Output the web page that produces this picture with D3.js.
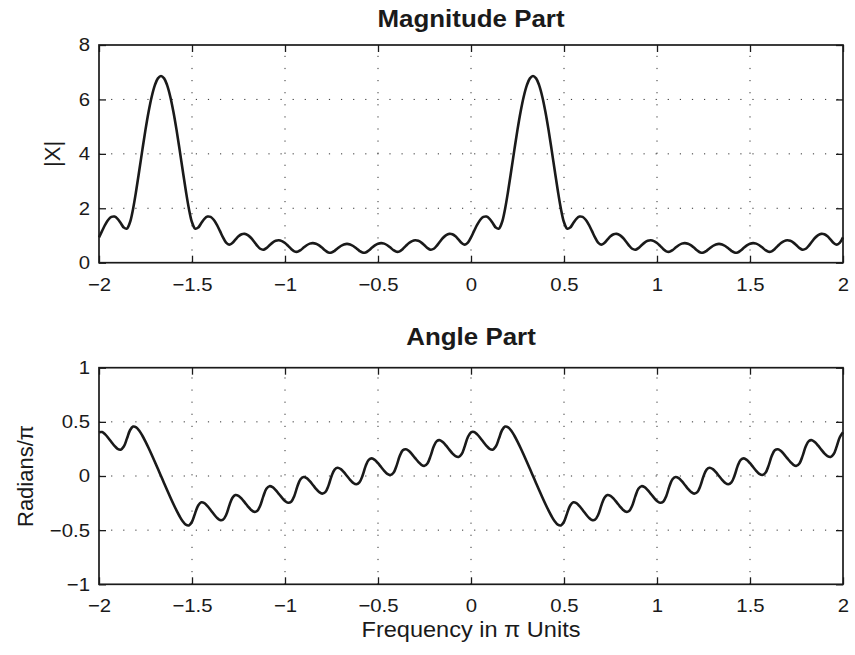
<!DOCTYPE html>
<html><head><meta charset="utf-8">
<script src="https://cdn.jsdelivr.net/npm/d3@7"></script>
<style>
body{margin:0;background:#fff}
text{font-family:"Liberation Sans",Arial,Helvetica,sans-serif;fill:#1a1a1a}
</style>
</head><body>
<svg id="chart" width="855" height="655" xmlns="http://www.w3.org/2000/svg"></svg>
<script>
// |X(e^jw)| sampled every pi/60 from -2pi to 2pi
const magnitude = [
0.929,1.168,1.397,1.577,1.682,1.694,1.613,1.458,1.292,1.253,
1.487,1.986,2.651,3.395,4.157,4.889,5.548,6.100,6.516,6.774,
6.862,
6.774,6.516,6.100,5.548,4.889,4.157,3.395,2.651,1.986,1.487,
1.253,1.292,1.458,1.613,1.694,1.682,1.577,1.397,1.168,0.929,
0.737,0.663,0.724,0.849,0.969,1.044,1.060,1.016,0.916,0.779,
0.630,0.513,0.478,0.538,0.641,0.739,0.804,0.823,0.794,0.722,
0.618,0.504,0.417,0.401,0.461,0.555,0.642,0.701,0.721,0.698,
0.637,0.547,0.449,0.377,0.372,0.436,0.528,0.613,0.671,0.692,
0.671,0.613,0.528,0.436,0.372,0.377,0.449,0.547,0.637,
0.698,0.721,0.701,0.642,0.555,0.461,0.401,0.417,0.504,0.618,
0.722,0.794,0.823,0.804,0.739,0.641,0.538,0.478,0.513,0.630,
0.779,0.916,1.016,1.060,1.044,0.969,0.849,0.724,0.663,0.737,
0.929,1.168,1.397,1.577,1.682,1.694,1.613,1.458,1.292,1.253,
1.487,1.986,2.651,3.395,4.157,4.889,5.548,6.100,6.516,6.774,
6.862,
6.774,6.516,6.100,5.548,4.889,4.157,3.395,2.651,1.986,1.487,
1.253,1.292,1.458,1.613,1.694,1.682,1.577,1.397,1.168,0.929,
0.737,0.663,0.724,0.849,0.969,1.044,1.060,1.016,0.916,0.779,
0.630,0.513,0.478,0.538,0.641,0.739,0.804,0.823,0.794,0.722,
0.618,0.504,0.417,0.401,0.461,0.555,0.642,0.701,0.721,0.698,
0.637,0.547,0.449,0.377,0.372,0.436,0.528,0.613,0.671,0.692,
0.671,0.613,0.528,0.436,0.372,0.377,0.449,0.547,0.637,
0.698,0.721,0.701,0.642,0.555,0.461,0.401,0.417,0.504,0.618,
0.722,0.794,0.823,0.804,0.739,0.641,0.538,0.478,0.513,0.630,
0.779,0.916,1.016,1.060,1.044,0.969,0.849,0.724,0.663,0.737,
0.929
];
// angle(X)/pi on the same frequency samples
const angle = [
0.4037,0.4061,0.3845,0.3510,0.3133,0.2776,0.2507,0.2432,0.2717,0.3448,
0.4225,0.4566,0.4495,0.4175,0.3716,0.3175,0.2583,0.1959,0.1316,0.0661,
0,
-0.0661,-0.1316,-0.1959,-0.2583,-0.3175,-0.3716,-0.4175,-0.4495,-0.4566,-0.4225,
-0.3448,-0.2717,-0.2432,-0.2507,-0.2776,-0.3133,-0.3510,-0.3845,-0.4061,-0.4037,
-0.3599,-0.2758,-0.2027,-0.1754,-0.1829,-0.2090,-0.2435,-0.2797,-0.3111,-0.3301,
-0.3236,-0.2746,-0.1881,-0.1180,-0.0941,-0.1033,-0.1300,-0.1645,-0.2000,-0.2304,
-0.2474,-0.2375,-0.1839,-0.0960,-0.0296,-0.0092,-0.0204,-0.0481,-0.0827,-0.1179,
-0.1474,-0.1625,-0.1491,-0.0911,-0.0025,0.0598,0.0766,0.0635,0.0349,0,
-0.0349,-0.0635,-0.0766,-0.0598,0.0025,0.0911,0.1491,0.1625,0.1474,
0.1179,0.0827,0.0481,0.0204,0.0092,0.0296,0.0960,0.1839,0.2375,0.2474,
0.2304,0.2000,0.1645,0.1300,0.1033,0.0941,0.1180,0.1881,0.2746,0.3236,
0.3301,0.3111,0.2797,0.2435,0.2090,0.1829,0.1754,0.2027,0.2758,0.3599,
0.4037,0.4061,0.3845,0.3510,0.3133,0.2776,0.2507,0.2432,0.2717,0.3448,
0.4225,0.4566,0.4495,0.4175,0.3716,0.3175,0.2583,0.1959,0.1316,0.0661,
0,
-0.0661,-0.1316,-0.1959,-0.2583,-0.3175,-0.3716,-0.4175,-0.4495,-0.4566,-0.4225,
-0.3448,-0.2717,-0.2432,-0.2507,-0.2776,-0.3133,-0.3510,-0.3845,-0.4061,-0.4037,
-0.3599,-0.2758,-0.2027,-0.1754,-0.1829,-0.2090,-0.2435,-0.2797,-0.3111,-0.3301,
-0.3236,-0.2746,-0.1881,-0.1180,-0.0941,-0.1033,-0.1300,-0.1645,-0.2000,-0.2304,
-0.2474,-0.2375,-0.1839,-0.0960,-0.0296,-0.0092,-0.0204,-0.0481,-0.0827,-0.1179,
-0.1474,-0.1625,-0.1491,-0.0911,-0.0025,0.0598,0.0766,0.0635,0.0349,0,
-0.0349,-0.0635,-0.0766,-0.0598,0.0025,0.0911,0.1491,0.1625,0.1474,
0.1179,0.0827,0.0481,0.0204,0.0092,0.0296,0.0960,0.1839,0.2375,0.2474,
0.2304,0.2000,0.1645,0.1300,0.1033,0.0941,0.1180,0.1881,0.2746,0.3236,
0.3301,0.3111,0.2797,0.2435,0.2090,0.1829,0.1754,0.2027,0.2758,0.3599,
0.4037
];
const freqRange = [-2, 2];
const xTicks = [-2,-1.5,-1,-0.5,0,0.5,1,1.5,2];
const magTicks = [0,2,4,6,8];
const angTicks = [-1,-0.5,0,0.5,1];
const titles = ["Magnitude Part","Angle Part"];
const yLabels = ["|X|","Radians/\u03c0"];
const xLabel = "Frequency in \u03c0 Units";

const freq = magnitude.map((_, i) => freqRange[0] + (freqRange[1]-freqRange[0]) * i / (magnitude.length - 1));

const svg = d3.select("#chart");
const X0 = 99, X1 = 843;
const x = d3.scaleLinear().domain(freqRange).range([X0, X1]);
const fmt = d => d < 0 ? "\u2212" + Math.abs(d) : String(d);
const INK = "#1a1a1a";

function panel(cfg) {
  const y = d3.scaleLinear().domain(cfg.domain).range([cfg.bottom, cfg.top]);
  const g = svg.append("g");
  // grid
  const grid = g.append("g").attr("stroke", "#333").attr("stroke-width", 1).attr("stroke-dasharray", "1.2,10.9");
  grid.selectAll("line.v").data(xTicks.slice(1, -1)).join("line").attr("class","v")
    .attr("x1", d => x(d)).attr("x2", d => x(d)).attr("y1", cfg.bottom).attr("y2", cfg.top);
  grid.selectAll("line.h").data(cfg.ticks.slice(1, -1)).join("line").attr("class","h")
    .attr("y1", d => y(d)).attr("y2", d => y(d)).attr("x1", X0).attr("x2", X1);

  // axes (inside ticks)
  const ax = (gen, tr, labels, sx) => {
    const a = g.append("g").attr("transform", tr).call(gen);
    a.select(".domain").remove();
    a.selectAll(".tick line").attr("stroke", INK).attr("stroke-width", 1.3);
    a.selectAll("text").style("font-size", "18.5px").attr("fill", INK);
    if (!labels) a.selectAll("text").remove();
    else if (sx) a.selectAll("text").attr("transform", `scale(${sx},1)`);
    return a;
  };
  ax(d3.axisBottom(x).tickValues(xTicks).tickFormat(fmt).tickSizeInner(-7).tickSizeOuter(0).tickPadding(15),
     `translate(0,${cfg.bottom})`, true, 1.1);
  ax(d3.axisTop(x).tickValues(xTicks).tickSizeInner(-7).tickSizeOuter(0), `translate(0,${cfg.top})`, false);
  ax(d3.axisLeft(y).tickValues(cfg.ticks).tickFormat(fmt).tickSizeInner(-7).tickSizeOuter(0).tickPadding(8.2),
     `translate(${X0},0)`, true, 1.1);
  ax(d3.axisRight(y).tickValues(cfg.ticks).tickSizeInner(-7).tickSizeOuter(0), `translate(${X1},0)`, false);

  // frame
  g.append("rect").attr("x", X0).attr("y", cfg.top).attr("width", X1 - X0).attr("height", cfg.bottom - cfg.top)
    .attr("fill", "none").attr("stroke", INK).attr("stroke-width", 1.7);

  // curve
  const line = d3.line().x((d, i) => x(freq[i])).y(d => y(d)).curve(d3.curveCatmullRom);
  g.append("path").datum(cfg.values).attr("d", line).attr("fill", "none")
    .attr("stroke", INK).attr("stroke-width", 2.6).attr("stroke-linejoin", "round");

  // title
  g.append("text").attr("transform", `translate(${(X0 + X1) / 2},${cfg.titleY}) scale(1.08,1)`)
    .attr("text-anchor", "middle")
    .style("font-size", "24px").style("font-weight", "bold").text(cfg.title);
  // y label
  g.append("text").attr("transform", `translate(${cfg.ylabelX},${(cfg.top + cfg.bottom) / 2}) rotate(-90)`)
    .attr("text-anchor", "middle").attr("dy", "0.35em").style("font-size", "22px").text(cfg.ylabel);
}

panel({domain: [0, 8], top: 45, bottom: 262.7, ticks: magTicks, values: magnitude,
       title: titles[0], titleY: 27, ylabel: yLabels[0], ylabelX: 52});
panel({domain: [-1, 1], top: 367.7, bottom: 584.3, ticks: angTicks, values: angle,
       title: titles[1], titleY: 345, ylabel: yLabels[1], ylabelX: 25});

svg.append("text").attr("transform", `translate(${(X0 + X1) / 2},637) scale(1.07,1)`)
  .attr("text-anchor", "middle")
  .style("font-size", "22px").text(xLabel);
</script>
</body></html>
